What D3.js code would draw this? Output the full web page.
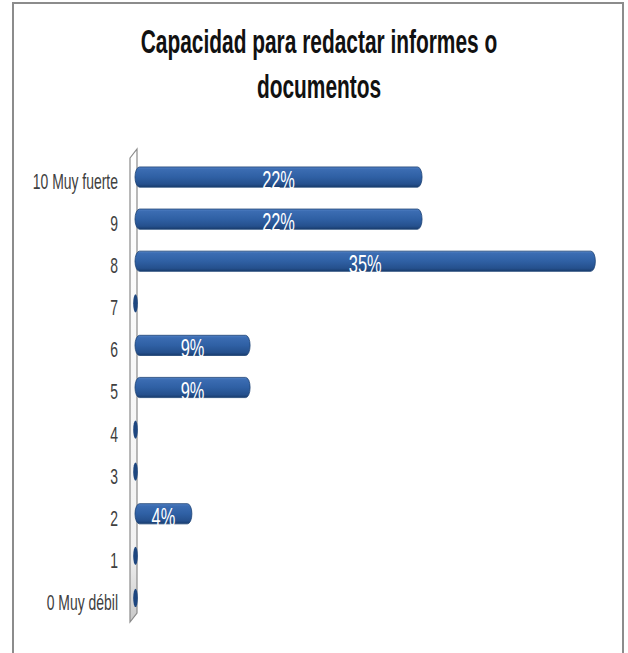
<!DOCTYPE html>
<html>
<head>
<meta charset="utf-8">
<script src="https://cdn.jsdelivr.net/npm/d3@7"></script>
<style>
  html, body { margin: 0; padding: 0; background: #fff; }
  svg { display: block; }
</style>
</head>
<body>
<svg id="chart"></svg>
<script>
// Chart data
const categories = ['10 Muy fuerte', '9', '8', '7', '6', '5', '4', '3', '2', '1', '0 Muy débil'];
const percentValues = [21.7, 21.7, 34.8, 0, 8.7, 8.7, 0, 0, 4.3, 0, 0];
const valueLabels = ['22%', '22%', '35%', '', '9%', '9%', '', '', '4%', '', ''];
const titleLines = ['Capacidad para redactar informes o', 'documentos'];

const width = 628, height = 653;
// Arial-Narrow look: Liberation Sans squeezed horizontally, picture stretched vertically
const sx = 0.82, sy = 1.28;
const fontFamily = '"Liberation Sans", Arial, sans-serif';

const svg = d3.select('#chart').attr('width', width).attr('height', height);

// gradients
const defs = svg.append('defs');
const barGrad = defs.append('linearGradient')
    .attr('id', 'barGrad').attr('x1', 0).attr('y1', 0).attr('x2', 0).attr('y2', 1);
[[0, '#5281c4'], [0.12, '#3b6cb2'], [0.5, '#2f60a4'], [0.85, '#25508d'], [1, '#183b6c']]
    .forEach(([o, c]) => barGrad.append('stop').attr('offset', o).attr('stop-color', c));
const wallGrad = defs.append('linearGradient')
    .attr('id', 'wallGrad').attr('x1', 0).attr('y1', 0).attr('x2', 0).attr('y2', 1);
[[0, '#ffffff'], [0.85, '#f2f2f2'], [1, '#c8c8c8']]
    .forEach(([o, c]) => wallGrad.append('stop').attr('offset', o).attr('stop-color', c));

// frame
svg.append('rect')
    .attr('x', 13).attr('y', 3).attr('width', 610).attr('height', 662)
    .attr('fill', '#fff').attr('stroke', '#8c8c8c').attr('stroke-width', 2);

// title
svg.append('g').selectAll('text')
    .data(titleLines)
    .join('text')
    .attr('transform', (d, i) => `translate(319, ${53 + i * 45}) scale(${sx}, ${sy})`)
    .attr('text-anchor', 'middle')
    .attr('font-family', fontFamily)
    .attr('font-weight', 'bold')
    .attr('font-size', 25.5)
    .attr('fill', '#111')
    .text(d => d);

// scales
const x = d3.scaleLinear().domain([0, 35]).range([135, 598]);
const y = d3.scaleBand()
    .domain(categories)
    .range([156, 619])
    .paddingInner(0.52)
    .paddingOuter(0.26);

// side wall (3D look)
const wallTop = y.range()[0], wallBottom = y.range()[1];
svg.append('path')
    .attr('d', `M130,${wallTop + 2} L137,${wallTop - 7} L137,${wallBottom - 6} L130,${wallBottom + 3} Z`)
    .attr('fill', 'url(#wallGrad)')
    .attr('stroke', '#8a8a8a')
    .attr('stroke-width', 1.2);

// axis labels
const yAxis = d3.axisLeft(y).tickSize(0).tickPadding(0);
const gy = svg.append('g').attr('transform', 'translate(118,0)').call(yAxis);
gy.select('.domain').remove();
gy.selectAll('text')
    .attr('x', 0)
    .attr('font-family', fontFamily)
    .attr('font-size', 17)
    .attr('fill', '#404040')
    .attr('transform', `translate(0,5) scale(${sx}, ${sy})`);

const rows = categories.map((c, i) => ({ cat: c, value: percentValues[i], label: valueLabels[i] }));

// bars
const bars = svg.append('g');
bars.selectAll('rect')
    .data(rows.filter(d => d.value > 0))
    .join('rect')
    .attr('x', x(0))
    .attr('y', d => y(d.cat))
    .attr('width', d => x(d.value) - x(0))
    .attr('height', y.bandwidth())
    .attr('rx', 4.5)
    .attr('ry', y.bandwidth() / 2)
    .attr('fill', 'url(#barGrad)')
    .attr('stroke', '#1d4375')
    .attr('stroke-width', 0.8);

// zero-value bars show only their end caps
bars.selectAll('ellipse')
    .data(rows.filter(d => d.value === 0))
    .join('ellipse')
    .attr('cx', x(0) + 0.5)
    .attr('cy', d => y(d.cat) + y.bandwidth() / 2)
    .attr('rx', 2.3)
    .attr('ry', y.bandwidth() / 2 - 1)
    .attr('fill', '#1d467f');

// value labels (white, centred in bar, sitting slightly low)
svg.append('g').selectAll('text')
    .data(rows.filter(d => d.label))
    .join('text')
    .attr('transform', d => `translate(${(x(0) + x(d.value)) / 2}, ${y(d.cat) + y.bandwidth() / 2 + 12}) scale(${sx}, ${sy})`)
    .attr('text-anchor', 'middle')
    .attr('font-family', fontFamily)
    .attr('font-size', 20)
    .attr('fill', '#fff')
    .text(d => d.label);
</script>
</body>
</html>
